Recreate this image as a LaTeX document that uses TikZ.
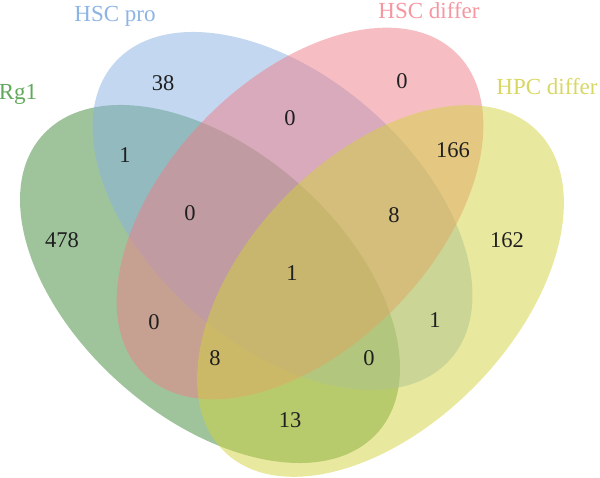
\documentclass[tikz,border=0pt]{standalone}
\usepackage{fontspec}
\setmainfont{Liberation Serif}
\definecolor{cgreen}{RGB}{64,138,58}
\definecolor{cblue}{RGB}{135,178,225}
\definecolor{cpink}{RGB}{237,125,135}
\definecolor{cyellow}{RGB}{210,210,62}
\definecolor{tgreen}{RGB}{98,168,92}
\definecolor{tblue}{RGB}{140,180,228}
\definecolor{tpink}{RGB}{245,150,160}
\definecolor{tyellow}{RGB}{215,215,100}
\begin{document}
\begin{tikzpicture}[x=1pt,y=1pt,
  setfill/.style={fill=#1, fill opacity=0.5},
  num/.style={inner sep=0pt, font=\fontsize{22.5}{24}\selectfont, text=black!88},
  setlabel/.style={inner sep=0pt, anchor=base, font=\fontsize{23}{24}\selectfont, text=#1}]
\useasboundingbox (0,0) rectangle (600,478);
% sets
\fill[setfill=cgreen]  (210,194)   ellipse [x radius=224pt, y radius=134pt, rotate=-41.4];
\fill[setfill=cblue]   (282.5,267) ellipse [x radius=224pt, y radius=134pt, rotate=-41.4];
\fill[setfill=cpink]   (300,264.5) ellipse [x radius=224pt, y radius=134pt, rotate=45.8];
\fill[setfill=cyellow] (380.5,187) ellipse [x radius=224pt, y radius=134pt, rotate=45.8];
% set labels
\node[setlabel=tgreen]  (lrg)  at (18,378)  {Rg1};
\node[setlabel=tblue]   (lpro) at (115,456) {HSC pro};
\node[setlabel=tpink]   (ldif) at (429,459) {HSC differ};
\node[setlabel=tyellow] (lhpc) at (547,383) {HPC differ};
% counts
\node[num] (n38)  at (163,395) {38};
\node[num] (n0a)  at (402,397) {0};
\node[num] (n1a)  at (125,323) {1};
\node[num] (n0b)  at (290,360) {0};
\node[num] (n166) at (453,328) {166};
\node[num] (n478) at (62,238)  {478};
\node[num] (n0c)  at (190,265) {0};
\node[num] (n8a)  at (394,263) {8};
\node[num] (n162) at (507,238) {162};
\node[num] (n1b)  at (292,205) {1};
\node[num] (n0d)  at (154,156) {0};
\node[num] (n8b)  at (215,120) {8};
\node[num] (n1c)  at (435,158) {1};
\node[num] (n0e)  at (369,120) {0};
\node[num] (n13)  at (290,58)  {13};
\end{tikzpicture}
\end{document}
